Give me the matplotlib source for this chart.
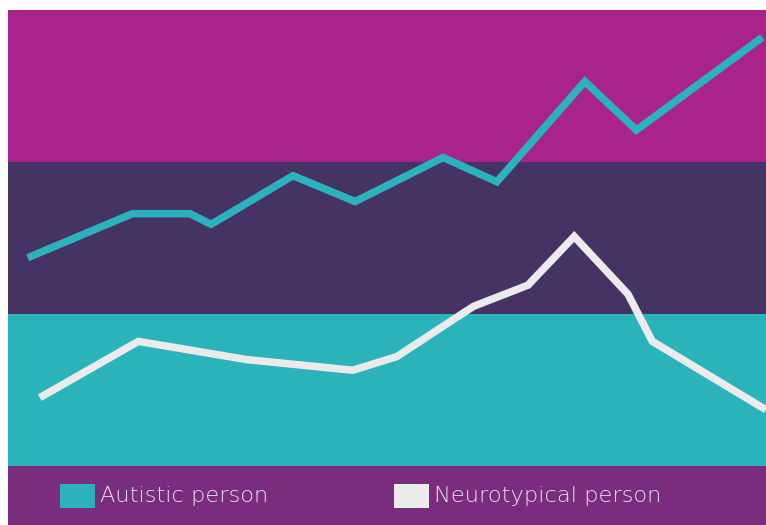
import matplotlib
matplotlib.use("Agg")
import matplotlib.pyplot as plt
from matplotlib.patches import Rectangle

# Data (x in arbitrary 0-100 units, y in band units 0-3)
series_names = ["Autistic person", "Neurotypical person"]
autistic_x = [2.6, 16.4, 24.0, 26.8, 37.6, 45.8, 57.4, 64.5, 76.1, 82.9, 99.5]
autistic_y = [1.37, 1.66, 1.66, 1.59, 1.91, 1.74, 2.03, 1.87, 2.53, 2.21, 2.82]
neuro_x = [4.2, 17.2, 31.5, 45.5, 51.3, 61.4, 68.6, 74.7, 81.8, 85.0, 100.0]
neuro_y = [0.45, 0.82, 0.70, 0.63, 0.72, 1.05, 1.19, 1.51, 1.13, 0.82, 0.37]

band_edges = [0, 1, 2, 3]
band_colors = ["#2AB3BB", "#443363", "#A8248A"]
line_colors = ["#2AB3BB", "#EBEBEB"]
legend_bg = "#7A2D7E"

W, H = 766, 525
fig = plt.figure(figsize=(W / 100, H / 100), dpi=100)
fig.patch.set_facecolor("white")

ax = fig.add_axes([8 / W, 59 / H, 758 / W, 456 / H])
for lo, hi, c in zip(band_edges[:-1], band_edges[1:], band_colors):
    ax.axhspan(lo, hi, color=c, lw=0, zorder=0)
ax.plot(autistic_x, autistic_y, color=line_colors[0], lw=5.4,
        solid_joinstyle="miter", solid_capstyle="butt", zorder=3)
ax.plot(neuro_x, neuro_y, color=line_colors[1], lw=5.4,
        solid_joinstyle="miter", solid_capstyle="butt", zorder=3)
ax.set_xlim(0, 100)
ax.set_ylim(band_edges[0], band_edges[-1])
ax.axis("off")

# Legend strip
fig.patches.append(Rectangle((8 / W, 0), 758 / W, 59 / H, transform=fig.transFigure,
                             facecolor=legend_bg, edgecolor="none", zorder=0))
sq_x = [60, 394]
for name, col, sx in zip(series_names, line_colors, sq_x):
    fig.patches.append(Rectangle((sx / W, (525 - 508) / H), 35 / W, 24 / H,
                                 transform=fig.transFigure, facecolor=col,
                                 edgecolor="none", zorder=2))
    fig.text((sx + 40) / W, (525 - 496) / H, name, color="#E8E2EC",
             fontsize=16.2, family="DejaVu Sans", va="center", ha="left",
             fontweight="light")

fig.savefig("out.png", dpi=100, facecolor=fig.get_facecolor())
